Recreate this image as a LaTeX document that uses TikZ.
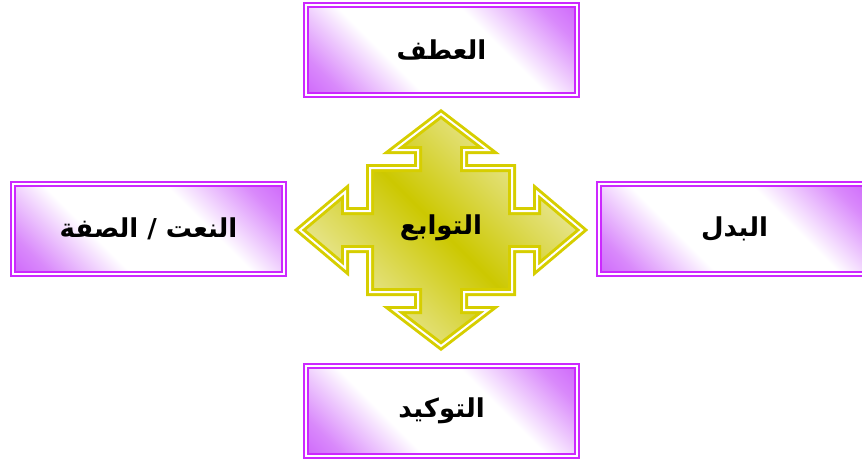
\documentclass[tikz,border=0pt]{standalone}
\usepackage{fontspec}
\newfontfamily\arabicfont[Script=Arabic]{DejaVu Sans}
\TeXXeTstate=1

\definecolor{boxline}{RGB}{204,40,255}
\definecolor{boxend}{RGB}{186,40,248}
\definecolor{crossline}{RGB}{214,206,0}
\definecolor{crossdark}{RGB}{204,200,0}
\definecolor{crosspale}{RGB}{238,236,178}

\pgfdeclarehorizontalshading{boxglow}{100bp}{color(0bp)=(boxend); color(22bp)=(boxend!55!white);
    color(38bp)=(white); color(62bp)=(white); color(78bp)=(boxend!55!white); color(100bp)=(boxend)}
\pgfdeclarehorizontalshading{crossglow}{100bp}{color(0bp)=(crosspale); color(25bp)=(crosspale);
    color(50bp)=(crossdark); color(75bp)=(crosspale); color(100bp)=(crosspale)}

\begin{document}
\begin{tikzpicture}[
    x=1pt, y=-1pt,
    branch/.style={rectangle, draw=boxline, double=white, double distance=2pt, line width=1.8pt,
        minimum width=271pt, minimum height=90pt,
        shading=boxglow, shading angle=45,
        font=\arabicfont\bfseries\fontsize{26}{30}\selectfont},
    crossbox/.style={draw=crossline, double=white, double distance=2pt, line width=3pt,
        shading=crossglow, shading angle=45}
]
\useasboundingbox (0,0) rectangle (862,463);

% central cross
\begin{scope}[shift={(441,230)}]
\draw[crossbox] (0,-116) -- (47,-80) -- (23,-80) -- (23,-62) -- (71,-62) -- (71,-19)
    -- (96,-19) -- (96,-38) -- (141,0) -- (96,38) -- (96,19) -- (71,19) -- (71,62)
    -- (23,62) -- (23,80) -- (47,80) -- (0,116) -- (-47,80) -- (-23,80) -- (-23,62)
    -- (-71,62) -- (-71,19) -- (-96,19) -- (-96,38) -- (-141,0) -- (-96,-38) -- (-96,-19)
    -- (-71,-19) -- (-71,-62) -- (-23,-62) -- (-23,-80) -- (-47,-80) -- cycle;
\node[font=\arabicfont\bfseries\fontsize{26}{30}\selectfont] (hub) at (0,-2) {\beginR التوابع\endR};
\end{scope}

\node[branch] (atf) at (441.5,50) {\beginR العطف\endR};
\node[branch] (naat) at (148.5,229) {\beginR النعت / الصفة\endR};
\node[branch] (badal) at (734.5,229) {\beginR البدل\endR};
\node[branch] (tawkid) at (441.5,411) {\beginR التوكيد\endR};
\end{tikzpicture}
\end{document}
